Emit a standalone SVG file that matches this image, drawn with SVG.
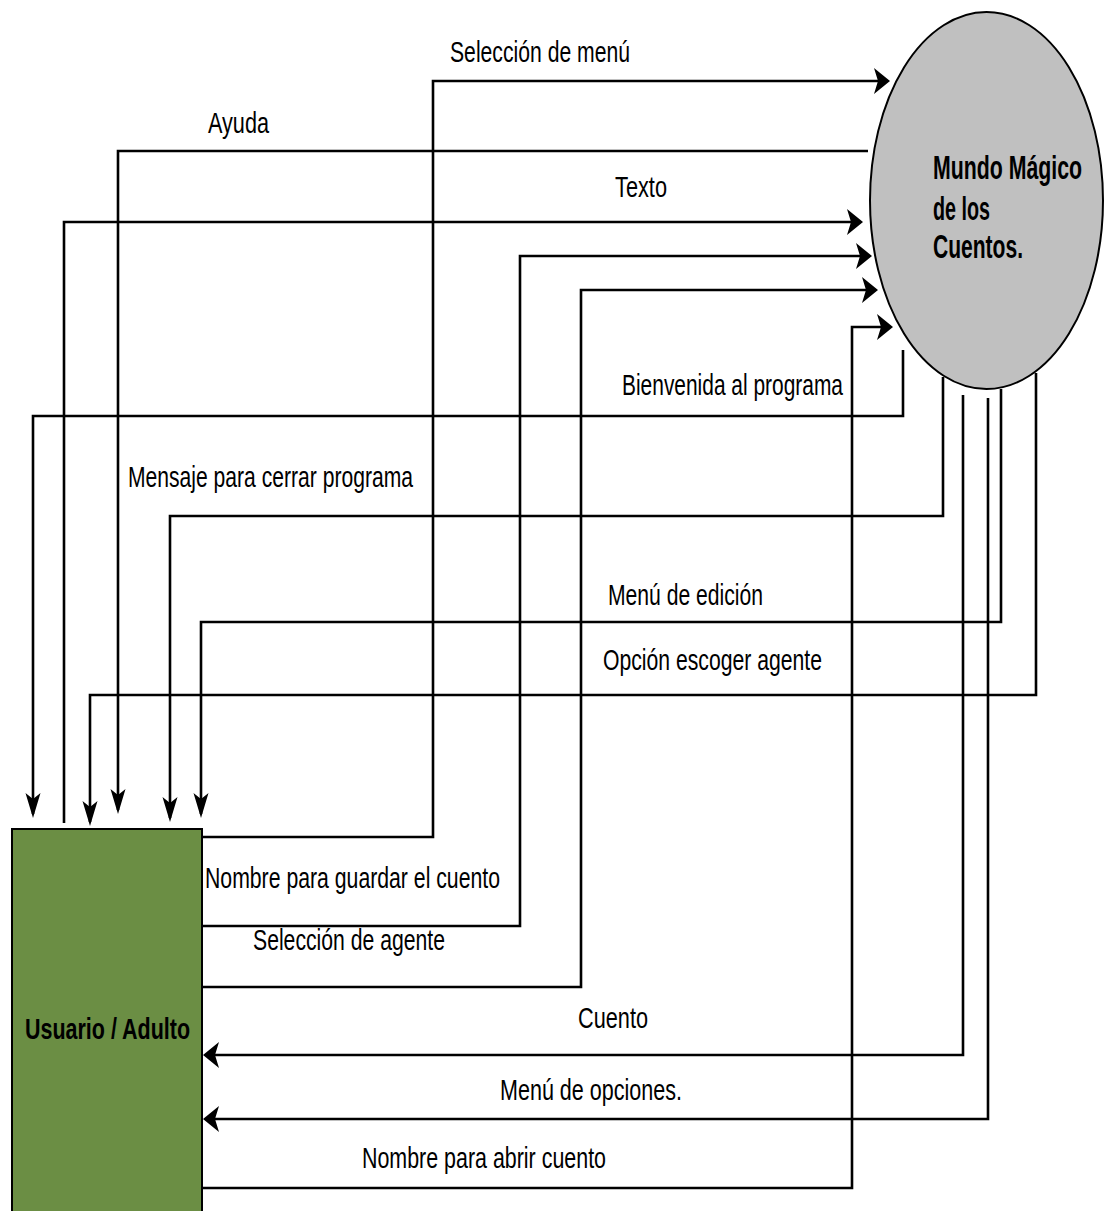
<svg xmlns="http://www.w3.org/2000/svg" width="1104" height="1211" viewBox="0 0 1104 1211">
<style>
.lbl{font-family:"Liberation Sans",Arial,sans-serif;font-size:30px;fill:#000}
.nodet{font-family:"Liberation Sans",Arial,sans-serif;font-weight:bold;fill:#000}
.c{fill:none;stroke:#000;stroke-width:2.6}
.h{marker-end:url(#ah)}
.v{marker-end:url(#av)}
</style>
<defs>
<marker id="ah" markerUnits="userSpaceOnUse" markerWidth="16" markerHeight="26" refX="12" refY="13" orient="auto" overflow="visible">
<path d="M0,0 L16,13 L0,26 L4,13 z" fill="#000"/>
</marker>
<marker id="av" markerUnits="userSpaceOnUse" markerWidth="25" markerHeight="15" refX="21" refY="7.5" orient="auto" overflow="visible">
<path d="M0,0 L25,7.5 L0,15 L6,7.5 z" fill="#000"/>
</marker>
</defs>
<rect width="1104" height="1211" fill="#fff"/>
<g id="mundo">
<ellipse cx="986.5" cy="200.5" rx="116.5" ry="188.5" fill="#C0C0C0" stroke="#000" stroke-width="2"/>
<text class="nodet" font-size="33" x="933" y="179" textLength="149" lengthAdjust="spacingAndGlyphs">Mundo Mágico</text>
<text class="nodet" font-size="33" x="933" y="220" textLength="57" lengthAdjust="spacingAndGlyphs">de los</text>
<text class="nodet" font-size="33" x="933" y="258" textLength="90" lengthAdjust="spacingAndGlyphs">Cuentos.</text>
</g>
<g id="usuario">
<rect x="12" y="829" width="190" height="400" fill="#6B8E44" stroke="#000" stroke-width="2"/>
<text class="nodet" font-size="30" x="25" y="1039" textLength="165" lengthAdjust="spacingAndGlyphs">Usuario / Adulto</text>
</g>
<g id="connectors">
<path class="c h" d="M203,837 H433 V81 H886"/>
<path class="c v" d="M868,151 H118 V810"/>
<path class="c h" d="M64,823 V222 H859"/>
<path class="c h" d="M203,926 H520 V256 H868"/>
<path class="c h" d="M203,987 H581 V290 H874"/>
<path class="c h" d="M203,1188 H852 V327 H889"/>
<path class="c v" d="M903,350 V416 H33 V814"/>
<path class="c v" d="M943,377 V516 H170 V818"/>
<path class="c v" d="M1001,389 V622 H201 V814"/>
<path class="c v" d="M1036,373 V695 H90 V822"/>
<path class="c h" d="M963,395 V1055 H207"/>
<path class="c h" d="M988,398 V1119 H207"/>
</g>
<g id="labels">
<text class="lbl" x="450" y="62" textLength="180" lengthAdjust="spacingAndGlyphs">Selección de menú</text>
<text class="lbl" x="208" y="133" textLength="61" lengthAdjust="spacingAndGlyphs">Ayuda</text>
<text class="lbl" x="615" y="197" textLength="52" lengthAdjust="spacingAndGlyphs">Texto</text>
<text class="lbl" x="622" y="395" textLength="221" lengthAdjust="spacingAndGlyphs">Bienvenida al programa</text>
<text class="lbl" x="128" y="487" textLength="285" lengthAdjust="spacingAndGlyphs">Mensaje para cerrar programa</text>
<text class="lbl" x="608" y="605" textLength="155" lengthAdjust="spacingAndGlyphs">Menú de edición</text>
<text class="lbl" x="603" y="670" textLength="219" lengthAdjust="spacingAndGlyphs">Opción escoger agente</text>
<text class="lbl" x="205" y="888" textLength="295" lengthAdjust="spacingAndGlyphs">Nombre para guardar el cuento</text>
<text class="lbl" x="253" y="950" textLength="192" lengthAdjust="spacingAndGlyphs">Selección de agente</text>
<text class="lbl" x="578" y="1028" textLength="70" lengthAdjust="spacingAndGlyphs">Cuento</text>
<text class="lbl" x="500" y="1100" textLength="182" lengthAdjust="spacingAndGlyphs">Menú de opciones.</text>
<text class="lbl" x="362" y="1168" textLength="244" lengthAdjust="spacingAndGlyphs">Nombre para abrir cuento</text>
</g>
</svg>
